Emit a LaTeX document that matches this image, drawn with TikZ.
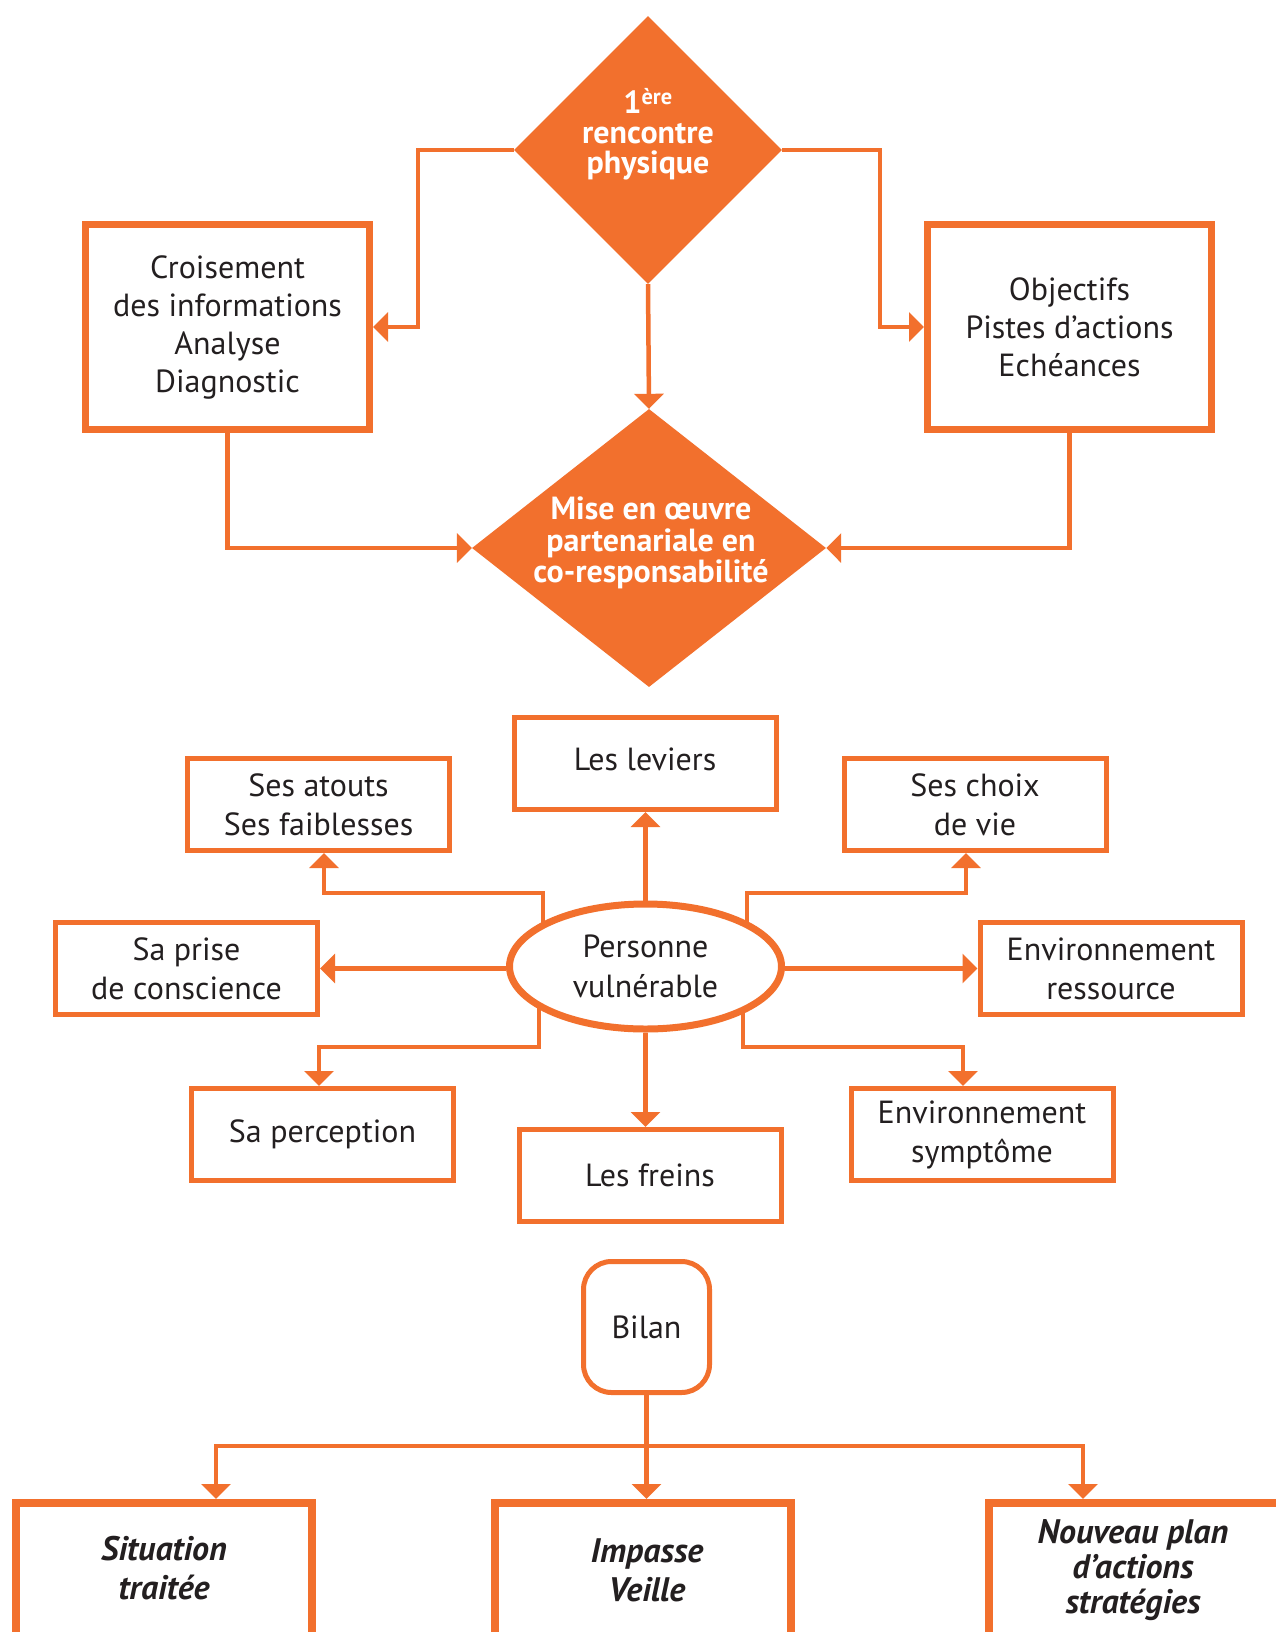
\documentclass[tikz,border=0pt]{standalone}
\usepackage{fontspec}
\setmainfont{PT Sans}
\usetikzlibrary{shapes.geometric,arrows.meta}
\definecolor{brand}{RGB}{242,112,45}
\definecolor{ink}{RGB}{35,31,32}

\tikzset{
  conn/.style={draw=brand, line width=4.5pt, -{Triangle[length=15pt,width=29pt]}},
  dia/.style={diamond, fill=brand, draw=none, inner sep=0pt},
  diatext/.style={text=white, align=center, inner sep=0pt},
  bigbox/.style={rectangle, draw=brand, line width=7pt, fill=white, inner sep=0pt,
    minimum width=284pt, minimum height=205pt, align=center, text=ink,
    font=\fontsize{32pt}{38pt}\selectfont},
  midbox/.style={rectangle, draw=brand, line width=5pt, fill=white, inner sep=0pt,
    minimum width=262pt, minimum height=92pt, align=center, text=ink,
    font=\fontsize{32pt}{39pt}\selectfont},
  person/.style={ellipse, draw=brand, line width=7pt, fill=white, inner sep=0pt,
    minimum width=272pt, minimum height=125pt, align=center, text=ink,
    font=\fontsize{32pt}{40pt}\selectfont},
  bilanbox/.style={rectangle, rounded corners=28pt, draw=brand, line width=5pt,
    fill=white, inner sep=0pt, minimum width=126pt, minimum height=131pt,
    text=ink, font=\fontsize{32pt}{38pt}\selectfont},
  endbox/.style={rectangle, draw=brand, line width=8pt, fill=white, inner sep=0pt,
    minimum width=296pt, minimum height=300pt},
  endtext/.style={align=center, text=ink, inner sep=0pt,
    font=\bfseries\itshape\fontsize{34pt}{39pt}\selectfont},
}

\begin{document}
\begin{tikzpicture}[x=1pt, y=-1pt]
\useasboundingbox (0,0) rectangle (1276,1632);
\clip (0,0) rectangle (1276,1632);
\fill[white] (0,0) rectangle (1276,1632);

% ---------- first meeting and follow-up ----------
\node[dia, minimum width=268pt, minimum height=268pt] (d1) at (648,150) {};
\node[diatext, font=\bfseries\fontsize{32pt}{30pt}\selectfont] (t1) at (648,134)
  {1\textsuperscript{ère}\\rencontre\\physique};

\node[bigbox] (A) at (227.5,327) {Croisement\\des informations\\Analyse\\Diagnostic};
\node[bigbox] (B) at (1069.5,327) {Objectifs\\Pistes d’actions\\Echéances};

\node[dia, minimum width=354pt, minimum height=278pt] (d2) at (649,548) {};
\node[diatext, font=\bfseries\fontsize{32pt}{31.5pt}\selectfont] (t2) at (651,543)
  {Mise en œuvre\\partenariale en\\co-responsabilité};

\coordinate (kA) at (418,327);
\coordinate (kB) at (880,327);
\draw[conn] (d1.west) -| (kA) -- (A.east);
\draw[conn] (d1.east) -| (kB) -- (B.west);
\draw[conn] (d1.south) -- (d2.north);
\draw[conn] (A.south) |- (d2.west);
\draw[conn] (B.south) |- (d2.east);

% ---------- the person and the surrounding factors ----------
\node[midbox] (lev)    at (645,763.5)   {};
\node[text=ink, font=\fontsize{32pt}{39pt}\selectfont, inner sep=0pt] (levT) at (645,759) {Les leviers};
\node[midbox] (atouts) at (318.5,804.5) {Ses atouts\\Ses faiblesses};
\node[midbox] (choix)  at (975,804.5)   {Ses choix\\de vie};
\node[midbox] (prise)  at (186.5,968.5) {Sa prise\\de conscience};
\node[midbox] (ress)   at (1111,968.5)  {Environnement\\ressource};
\node[midbox] (perc)   at (322.5,1134.5){Sa perception};
\node[midbox] (freins) at (650,1175.5)  {Les freins};
\node[midbox] (sympt)  at (982,1134.5)  {Environnement\\symptôme};

\coordinate (pTL) at (543,966);  \coordinate (kTL) at (324,893);
\coordinate (pTR) at (747,966);  \coordinate (kTR) at (966,893);
\coordinate (pBL) at (539,966);  \coordinate (kBL) at (319,1047);
\coordinate (pBR) at (743,966);  \coordinate (kBR) at (963,1047);

\draw[conn] (pTL) |- (kTL) -- (kTL |- atouts.south);
\draw[conn] (pTR) |- (kTR) -- (kTR |- choix.south);
\draw[conn] (pBL) |- (kBL) -- (kBL |- perc.north);
\draw[conn] (pBR) |- (kBR) -- (kBR |- sympt.north);

\node[person] (P) at (645.5,966.5) {Personne\\vulnérable};

\draw[conn] (P.north) -- (P.north |- lev.south);
\draw[conn] (P.south) -- (P.south |- freins.north);
\draw[conn] (P.west |- prise.east) -- (prise.east);
\draw[conn] (P.east |- ress.west) -- (ress.west);

% ---------- review and outcomes ----------
\node[bilanbox] (bilan) at (646.5,1327) {Bilan};

\node[endbox] (sit)  at (164,1653)  {};
\node[endbox] (imp)  at (643,1653)  {};
\node[endbox] (nouv) at (1137,1653) {};

\node[endtext] (sitT)  at (164,1568)  {Situation\\traitée};
\node[endtext] (impT)  at (647,1570)  {Impasse\\Veille};
\node[endtext, font=\bfseries\itshape\fontsize{34pt}{35pt}\selectfont] (nouvT) at (1133,1570)
  {Nouveau plan\\d’actions\\stratégies};

\coordinate (kS) at (216,1446);
\coordinate (kN) at (1083,1446);
\draw[conn] (bilan.south) |- (kS) -- (kS |- sit.north);
\draw[conn] (bilan.south) |- (kN) -- (kN |- nouv.north);
\draw[conn] (bilan.south) -- (bilan.south |- imp.north);
\end{tikzpicture}
\end{document}
